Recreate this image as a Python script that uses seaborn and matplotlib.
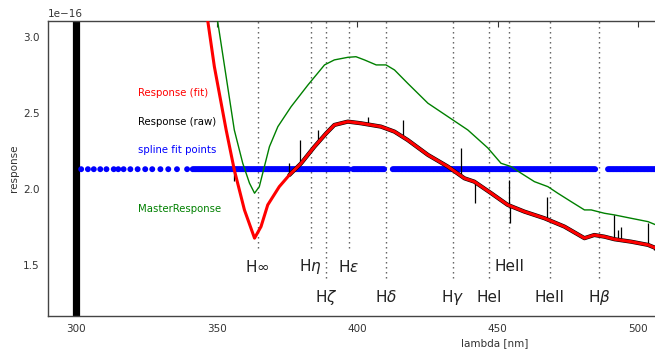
import numpy as np
import pandas as pd
import matplotlib
matplotlib.use("Agg")
import matplotlib.pyplot as plt
import seaborn as sns

SCALE = 1e-16

# Response (fit) curve: wavelength [nm], response [1e-16]
fit_lambda = [345.0, 346.9, 349.2, 353.4, 356.3, 359.9, 363.5, 365.8, 368.2, 372.3, 375.9,
              380.1, 384.8, 389.0, 391.9, 396.7, 401.4, 408.5, 413.3, 418.0, 425.2, 432.3,
              438.2, 441.7, 447.7, 453.6, 459.5, 466.7, 473.8, 480.9, 484.4, 488.0, 491.6,
              497.5, 503.5, 506.4, 510.0]
fit_vals = [3.22, 3.10, 2.805, 2.388, 2.125, 1.862, 1.676, 1.752, 1.895, 2.015, 2.092,
            2.169, 2.278, 2.366, 2.421, 2.443, 2.432, 2.410, 2.377, 2.322, 2.224, 2.147,
            2.070, 2.048, 1.972, 1.895, 1.851, 1.807, 1.752, 1.676, 1.697, 1.686, 1.669,
            1.653, 1.632, 1.610, 1.600]

# Response (raw): follows the fit, plus narrow spikes
raw_lambda = [375.9, 380.1, 384.8, 389.0, 391.9, 396.7, 401.4, 408.5, 413.3, 418.0, 425.2,
              432.3, 438.2, 441.7, 447.7, 453.6, 459.5, 466.7, 473.8, 480.9, 484.4, 488.0,
              491.6, 497.5, 503.5, 506.4, 510.0]
raw_vals = [2.092, 2.169, 2.278, 2.366, 2.421, 2.443, 2.432, 2.410, 2.377, 2.322, 2.224,
            2.147, 2.070, 2.048, 1.972, 1.895, 1.851, 1.807, 1.752, 1.676, 1.697, 1.686,
            1.669, 1.653, 1.632, 1.610, 1.600]
spike_lambda = [356.3, 375.9, 379.5, 386.0, 403.8, 416.3, 436.8, 442.1, 454.0, 454.3, 467.6,
                491.3, 492.7, 494.0, 503.5, 505.5]
spike_lo = [2.05, 2.09, 2.16, 2.30, 2.43, 2.34, 2.09, 1.905, 1.90, 1.776, 1.80,
            1.665, 1.665, 1.66, 1.632, 1.60]
spike_hi = [2.13, 2.173, 2.32, 2.386, 2.476, 2.454, 2.268, 2.04, 2.059, 1.90, 1.949,
            1.829, 1.730, 1.75, 1.774, 1.62]

# MasterResponse curve
master_lambda = [349.3, 350.4, 356.3, 359.3, 361.7, 363.5, 365.2, 367.0, 368.8, 371.8, 376.5,
                 382.5, 388.4, 391.9, 396.7, 399.6, 402.6, 406.8, 410.3, 413.3, 418.0, 425.2,
                 432.3, 439.4, 446.5, 451.2, 454.8, 458.4, 463.1, 467.9, 471.4, 476.2, 480.9,
                 483.3, 488.0, 491.6, 497.5, 503.5, 506.4, 510.0]
master_vals = [3.22, 3.10, 2.388, 2.169, 2.038, 1.972, 2.015, 2.147, 2.278, 2.410, 2.541,
               2.684, 2.816, 2.849, 2.866, 2.870, 2.849, 2.816, 2.816, 2.783, 2.695, 2.564,
               2.476, 2.388, 2.270, 2.169, 2.147, 2.103, 2.048, 2.015, 1.972, 1.916, 1.862,
               1.862, 1.840, 1.829, 1.807, 1.785, 1.763, 1.745]

# spline fit points: sparse ones, then dense runs (start, end) sampled on the pixel grid
spline_level = 2.13
spline_sparse = [301.8, 304.2, 306.3, 308.6, 310.8, 313.4, 315.0, 316.9, 319.3, 321.9,
                 324.6, 327.1, 330.0, 332.8, 335.9, 339.5]
spline_runs = [(341.5, 397.0), (398.6, 410.0), (412.7, 484.7), (489.3, 610.0)]
spline_step = 0.5

# spectral lines
line_names = [r"H$\infty$", r"H$\eta$", r"H$\zeta$", r"H$\epsilon$", r"H$\delta$",
              r"H$\gamma$", "HeI", "HeII", "HeII", r"H$\beta$"]
line_lambda = [364.6, 383.5, 388.9, 397.0, 410.2, 434.0, 447.1, 454.1, 468.6, 486.1]
line_row = [0, 0, 1, 0, 1, 1, 1, 0, 1, 1]
row_text_y = [1.487, 1.289]
row_line_bottom = [1.612, 1.414]

# in-axes legend texts
legend_texts = ["Response (fit)", "Response (raw)", "spline fit points", "MasterResponse"]
legend_colors = ["red", "black", "blue", "green"]
legend_y = [2.63, 2.44, 2.257, 1.868]
legend_x = 322.1

x_ticks = [300, 350, 400, 450, 500]
y_ticks = [1.5, 2.0, 2.5, 3.0]
XLIM = (290, 608)
YLIM = (1.164, 3.105)

sns.set_style("white")
plt.rcParams["font.family"] = ["DejaVu Sans"]
plt.rcParams["mathtext.fontset"] = "dejavusans"

fig = plt.figure(figsize=(6.55, 3.57), dpi=100)
ax = fig.add_axes([48 / 655, 41 / 357, 893.6 / 655, 295 / 357])

# black bar at 300 nm
ax.axvline(300, color="black", lw=5.2, zorder=1)

# spectral line markers
for name, lam, row in zip(line_names, line_lambda, line_row):
    ax.vlines(lam, row_line_bottom[row] * SCALE, YLIM[1] * SCALE, colors="#555555",
              linestyles=(0, (1, 2.6)), lw=1.0, zorder=1)
    ax.text(lam, row_text_y[row] * SCALE, name, ha="center", va="center",
            fontsize=11, color="#222222")

# spline points
sp_x = list(spline_sparse)
for a, b in spline_runs:
    sp_x.extend(np.arange(a, b + 1e-9, spline_step).tolist())
df_sp = pd.DataFrame({"lam": sp_x, "val": [spline_level * SCALE] * len(sp_x)})
sns.scatterplot(data=df_sp, x="lam", y="val", ax=ax, color="blue", s=18,
                edgecolor="none", zorder=2, legend=False)

# MasterResponse
df_m = pd.DataFrame({"lam": master_lambda, "val": np.array(master_vals) * SCALE})
sns.lineplot(data=df_m, x="lam", y="val", ax=ax, color="green", lw=1.0,
             sort=False, estimator=None, zorder=3)

# raw response
df_r = pd.DataFrame({"lam": raw_lambda, "val": np.array(raw_vals) * SCALE})
sns.lineplot(data=df_r, x="lam", y="val", ax=ax, color="black", lw=3.0,
             sort=False, estimator=None, zorder=4)
ax.vlines(spike_lambda, np.array(spike_lo) * SCALE, np.array(spike_hi) * SCALE,
          colors="black", lw=0.9, zorder=4)

# fit response
df_f = pd.DataFrame({"lam": fit_lambda, "val": np.array(fit_vals) * SCALE})
sns.lineplot(data=df_f, x="lam", y="val", ax=ax, color="red", lw=2.2,
             sort=False, estimator=None, zorder=5)

for t, c, y in zip(legend_texts, legend_colors, legend_y):
    ax.text(legend_x, y * SCALE, t, color=c, fontsize=7.3, ha="left", va="center")

ax.set_xlim(*XLIM)
ax.set_ylim(YLIM[0] * SCALE, YLIM[1] * SCALE)
ax.set_xticks(x_ticks)
ax.set_yticks(np.array(y_ticks) * SCALE)
ax.tick_params(direction="in", length=4, width=0.8, top=True, right=True,
               labelsize=7.5, colors="#333333", labelcolor="#333333", pad=6)
ax.yaxis.get_offset_text().set_fontsize(7.5)
ax.yaxis.get_offset_text().set_color("#333333")
for s in ax.spines.values():
    s.set_color("#444444")
    s.set_linewidth(1.0)
ax.set_xlabel("lambda [nm]", fontsize=7.5, color="#333333", labelpad=3)
ax.set_ylabel("response", fontsize=7.5, color="#333333", labelpad=3)

fig.savefig("out.png", dpi=100)
